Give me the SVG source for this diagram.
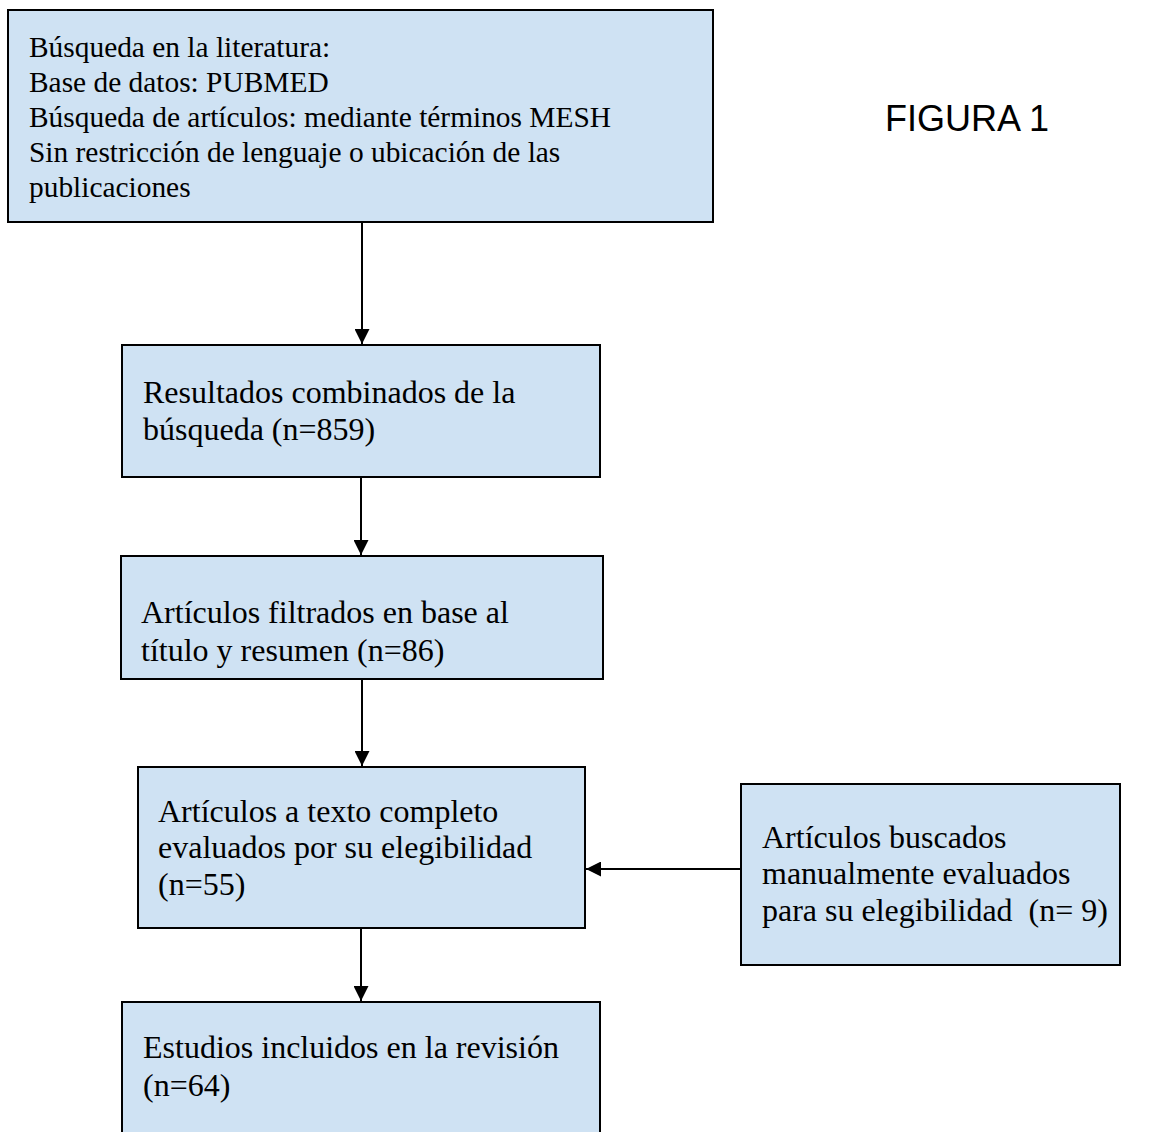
<svg xmlns="http://www.w3.org/2000/svg" width="1149" height="1132" viewBox="0 0 1149 1132">
<style>
.box{fill:#cfe2f3;stroke:#000;stroke-width:2}
.t{font-family:"Liberation Serif","Times New Roman",serif;font-size:32px;fill:#000;white-space:pre}
.t1{font-family:"Liberation Serif","Times New Roman",serif;font-size:29.4px;fill:#000}
.c{stroke:#000;stroke-width:2;fill:none}
.fig{font-family:"Liberation Sans",Arial,sans-serif;font-size:36px;fill:#000}
</style>
<defs>
<marker id="ah" viewBox="0 0 10 10" refX="10" refY="5" markerWidth="7.5" markerHeight="7.5" orient="auto" markerUnits="strokeWidth">
<path d="M0,0 L10,5 L0,10 z" fill="#000"/>
</marker>
</defs>
<rect width="1149" height="1132" fill="#fff"/>
<g id="connectors">
<line class="c" x1="362" y1="222" x2="362" y2="344" marker-end="url(#ah)"/>
<line class="c" x1="361" y1="477" x2="361" y2="555" marker-end="url(#ah)"/>
<line class="c" x1="362" y1="679" x2="362" y2="766" marker-end="url(#ah)"/>
<line class="c" x1="741" y1="869" x2="586" y2="869" marker-end="url(#ah)"/>
<line class="c" x1="361" y1="928" x2="361" y2="1001" marker-end="url(#ah)"/>
</g>
<g id="n1">
<rect class="box" x="8" y="10" width="705" height="212"/>
<text class="t1" x="29" y="57">Búsqueda en la literatura:</text>
<text class="t1" x="29" y="92">Base de datos: PUBMED</text>
<text class="t1" x="29" y="127">Búsqueda de artículos: mediante términos MESH</text>
<text class="t1" x="29" y="162">Sin restricción de lenguaje o ubicación de las</text>
<text class="t1" x="29" y="197">publicaciones</text>
</g>
<g id="fig">
<text class="fig" x="885" y="131">FIGURA 1</text>
</g>
<g id="n2">
<rect class="box" x="122" y="345" width="478" height="132"/>
<text class="t" x="143" y="403">Resultados combinados de la</text>
<text class="t" x="143" y="440">búsqueda (n=859)</text>
</g>
<g id="n3">
<rect class="box" x="121" y="556" width="482" height="123"/>
<text class="t" x="141" y="623">Artículos filtrados en base al</text>
<text class="t" x="141" y="661">título y resumen (n=86)</text>
</g>
<g id="n4">
<rect class="box" x="138" y="767" width="447" height="161"/>
<text class="t" x="158" y="822">Artículos a texto completo</text>
<text class="t" x="158" y="858">evaluados por su elegibilidad</text>
<text class="t" x="158" y="895">(n=55)</text>
</g>
<g id="n5">
<rect class="box" x="741" y="784" width="379" height="181"/>
<text class="t" x="762" y="848">Artículos buscados</text>
<text class="t" x="762" y="884">manualmente evaluados</text>
<text class="t" x="762" y="921" xml:space="preserve">para su elegibilidad  (n= 9)</text>
</g>
<g id="n6">
<rect class="box" x="122" y="1002" width="478" height="140"/>
<text class="t" x="143" y="1058">Estudios incluidos en la revisión</text>
<text class="t" x="143" y="1096">(n=64)</text>
</g>
</svg>
